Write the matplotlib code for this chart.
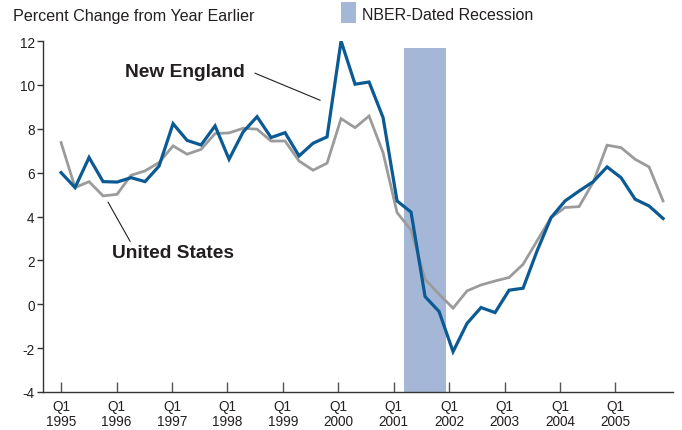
import matplotlib
matplotlib.use("Agg")
import matplotlib.pyplot as plt
import numpy as np

plt.rcParams['font.family'] = ['Liberation Sans', 'DejaVu Sans']

years = list(range(1995, 2006))
quarters = [f"{y}Q{q}" for y in years for q in range(1, 5)]

new_england = [6.0, 5.32, 6.69, 5.59, 5.57, 5.77, 5.59, 6.30,
               8.23, 7.47, 7.26, 8.13, 6.61, 7.85, 8.55, 7.60,
               7.82, 6.76, 7.34, 7.63, 12.0, 10.03, 10.13, 8.51,
               4.71, 4.20, 0.35, -0.33, -2.16, -0.87, -0.15, -0.38,
               0.64, 0.73, 2.43, 3.95, 4.71, 5.16, 5.58, 6.26,
               5.77, 4.79, 4.48, 3.91]
united_states = [7.37, 5.32, 5.59, 4.94, 5.01, 5.88, 6.08, 6.46,
                 7.22, 6.84, 7.06, 7.78, 7.81, 8.02, 7.98, 7.44,
                 7.44, 6.53, 6.11, 6.43, 8.46, 8.05, 8.58, 6.91,
                 4.18, 3.38, 1.14, 0.46, -0.18, 0.61, 0.88, 1.06,
                 1.22, 1.82, 2.89, 3.95, 4.41, 4.45, 5.55, 7.25,
                 7.14, 6.61, 6.26, 4.71]
recession = (24.5, 27.5)   # quarter index span (Mar 2001 - Nov 2001)
recession_top = 11.7
yticks = [-4, -2, 0, 2, 4, 6, 8, 10, 12]
xtick_labels = [f"Q1\n{y}" for y in years]

blue = "#0b5a94"
gray = "#9b9b9b"
shade = "#a5b7d7"
textc = "#231f20"

fig = plt.figure(figsize=(6.82, 4.31), dpi=100)
ax = fig.add_axes([43/682, 1-393/431, (673-43)/682, (393-42)/431])

x = np.arange(len(quarters))
ax.fill_between(recession, [-4, -4], [recession_top, recession_top],
                color=shade, lw=0, zorder=1)
ax.plot(x, united_states, color=gray, lw=2.0, zorder=2, solid_joinstyle='miter')
ax.plot(x, new_england, color=blue, lw=2.3, zorder=3, solid_joinstyle='miter')

ax.set_xlim(-1.29, 43.71)
ax.set_ylim(-4, 12)
ax.set_yticks(yticks)
ax.set_yticklabels([str(v) for v in yticks])
ax.set_xticks(x[::4] - 0.08 * np.arange(len(years)) / 2)
ax.set_xticklabels(xtick_labels, linespacing=1.1)

for s in ['top', 'right']:
    ax.spines[s].set_visible(False)
for s in ['left', 'bottom']:
    ax.spines[s].set_color("#333333")
    ax.spines[s].set_linewidth(1.0)

ax.tick_params(axis='x', direction='in', length=7, width=1, color="#555555",
               pad=5, labelsize=9.8, labelcolor=textc)
ax.tick_params(axis='y', direction='out', length=4, width=1, color="#333333",
               pad=2, labelsize=9.8, labelcolor=textc)

# title text and legend
fig.text(13/682, 1-16/431, "Percent Change from Year Earlier", fontsize=11.6,
         color=textc, va='center', ha='left')
fig.patches.append(matplotlib.patches.Rectangle((341/682, 1-24/431), 15/682, 21/431,
                                                transform=fig.transFigure,
                                                color=shade, lw=0))
fig.text(362/682, 1-16/431, "NBER-Dated Recession", fontsize=11.5,
         color=textc, va='center', ha='left')

# annotations
ax.text(8.82, 10.62, "New England", fontsize=13.8, fontweight='bold',
        color=textc, ha='center', va='center')
ax.plot([13.86, 18.5], [10.53, 9.30], color=textc, lw=0.8)
ax.text(7.96, 2.37, "United States", fontsize=13.8, fontweight='bold',
        color=textc, ha='center', va='center')
ax.plot([3.36, 4.93], [4.65, 2.87], color=textc, lw=0.8)

fig.savefig("out.png", dpi=100)
